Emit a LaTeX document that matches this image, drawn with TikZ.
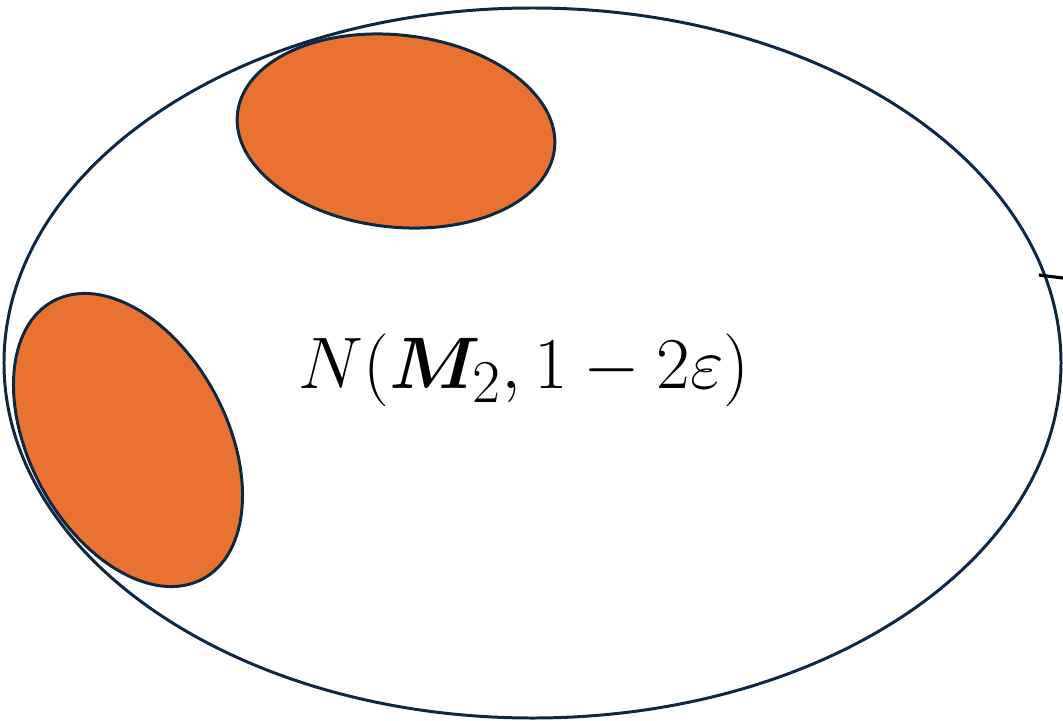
\documentclass[tikz,border=0pt]{standalone}
\usepackage{amsmath,bm}
\usetikzlibrary{shapes.geometric}
\definecolor{inkline}{HTML}{0E2841}
\definecolor{setorange}{HTML}{E97132}

\begin{document}
\begin{tikzpicture}[x=0.2mm,y=-0.2mm,
    region/.style={ellipse,draw=inkline,line width=1.7pt,inner sep=0pt},
    blob/.style={region,fill=setorange},
    tick/.style={black,line width=1.8pt},
    lbl/.style={font=\Huge,scale=1.67,inner sep=0pt}]
  \useasboundingbox (0,0) rectangle (1063,721);
  % outer neighbourhood
  \node[region,minimum width=21.14cm,minimum height=14.2cm] (nbhd) at (532.5,363) {};
  % the two orange sets
  \node[blob,minimum width=6.38cm,minimum height=3.84cm,rotate=-6.4] (topset) at (396,131) {};
  \node[blob,minimum width=6.31cm,minimum height=3.94cm,rotate=118.3] (leftset) at (128,440) {};
  \node[lbl,anchor=base] (name) at (524,388) {$N(\bm{M}_2, 1-2\varepsilon)$};
  % stub leaving on the right
  \coordinate (stubin) at (1039,275);
  \coordinate (stubout) at (1063,278);
  \draw[tick] (stubin) -- (stubout);
\end{tikzpicture}
\end{document}
